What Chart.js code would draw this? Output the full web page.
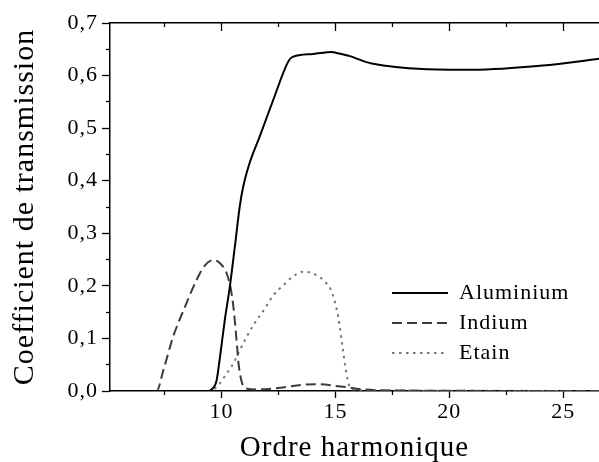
<!DOCTYPE html>
<html><head><meta charset="utf-8">
<script src="https://cdn.jsdelivr.net/npm/chart.js@4.4.1/dist/chart.umd.min.js"></script>
<style>html,body{margin:0;padding:0;background:#fff;}#wrap{width:599px;height:462px;}</style>
</head><body><div id="wrap"><canvas id="c" width="599" height="462"></canvas></div>
<script>
// ---- data ----
const seriesNames = ['Aluminium', 'Indium', 'Etain'];

const alX = [5.1, 9.4, 9.56, 9.78, 9.93, 10.14, 10.36, 10.58, 10.8, 10.95, 11.24, 11.68, 12.27, 12.93, 13.1, 14.02, 14.83, 15.05, 15.63, 16.59, 21.05, 24.1, 26.57];
const alY = [0, 0, 0.003, 0.02, 0.065, 0.135, 0.198, 0.274, 0.352, 0.389, 0.435, 0.485, 0.554, 0.627, 0.635, 0.641, 0.645, 0.643, 0.637, 0.623, 0.611, 0.619, 0.632];

const inX = [5.1, 7.15, 7.44, 7.87, 8.39, 8.9, 9.27, 9.63, 9.93, 10.22, 10.4, 10.51, 10.64, 10.75, 10.9, 11.05, 11.54, 12.56, 13.58, 14.17, 15.34, 16.22, 17.5, 26.57];
const inY = [0, 0, 0.039, 0.103, 0.16, 0.211, 0.239, 0.249, 0.243, 0.224, 0.195, 0.163, 0.105, 0.05, 0.015, 0.005, 0.003, 0.006, 0.012, 0.013, 0.008, 0.003, 0.001, 0];

const snX = [5.1, 9.5, 9.85, 10.22, 10.51, 10.8, 11.1, 11.39, 11.9, 12.27, 12.71, 13.14, 13.58, 13.85, 14.1, 14.46, 14.83, 15.12, 15.31, 15.46, 15.63, 15.93, 17, 26.57];
const snY = [0, 0, 0.011, 0.033, 0.052, 0.078, 0.103, 0.125, 0.157, 0.182, 0.201, 0.218, 0.227, 0.226, 0.222, 0.211, 0.189, 0.141, 0.084, 0.039, 0.008, 0.002, 0.001, 0];

const xMajorTicks = [10, 15, 20, 25];
const xTickLabels = ['10', '15', '20', '25'];
const xMinorTicks = [7.5, 12.5, 17.5, 22.5];
const yMajorTicks = [0, 0.1, 0.2, 0.3, 0.4, 0.5, 0.6, 0.7];
const yTickLabels = ['0,0', '0,1', '0,2', '0,3', '0,4', '0,5', '0,6', '0,7'];
const yMinorTicks = [0.05, 0.15, 0.25, 0.35, 0.45, 0.55, 0.65];
const xRange = [5.1, 26.57];
const yRange = [0, 0.7];
const xTitle = 'Ordre harmonique';
const yTitle = 'Coefficient de transmission';

// ---- chart ----
const FONT = "'Liberation Serif', 'Times New Roman', Times, serif";
Chart.defaults.font.family = FONT;
Chart.defaults.color = '#000';

const zip = (xs, ys) => xs.map((x, i) => ({x: x, y: ys[i]}));
const setTicks = list => axis => { axis.ticks = list.map(v => ({value: v})); };

function tickAxis(pos, weight, list, len, border, range) {
  return {
    type: 'linear', position: pos, weight: weight, bounds: 'data',
    min: range[0], max: range[1],
    afterBuildTicks: setTicks(list),
    afterFit: s => { if (pos === 'left') s.width = 0; else s.height = 0; },
    ticks: {display: false},
    grid: {drawOnChartArea: false, drawTicks: true, tickLength: len, tickColor: '#000', tickWidth: 1.3},
    border: {display: border, color: '#000', width: 1.5}
  };
}

const legendPlacer = {
  id: 'legendPlacer',
  beforeInit(chart) {
    const lg = chart.legend;
    const origFit = lg.fit;
    lg.fit = function () { origFit.call(this); this.width = 0; };
  },
  afterLayout(chart) {
    const lg = chart.legend;
    lg.left = 384; lg.top = 274; lg.right = 599; lg.bottom = 380;
    lg.width = lg.right - lg.left; lg.height = lg.bottom - lg.top;
  },
  beforeDraw(chart) {
    chart.ctx.letterSpacing = '1px';
  }
};

new Chart(document.getElementById('c'), {
  type: 'line',
  data: {
    datasets: [
      {label: seriesNames[0], data: zip(alX, alY), borderColor: '#000', borderWidth: 2,
       pointRadius: 0, cubicInterpolationMode: 'monotone', fill: false},
      {label: seriesNames[1], data: zip(inX, inY), borderColor: '#3c3c3c', borderWidth: 2,
       borderDash: [10, 5], pointRadius: 0, cubicInterpolationMode: 'monotone', fill: false},
      {label: seriesNames[2], data: zip(snX, snY), borderColor: '#777777', borderWidth: 2,
       borderDash: [2.5, 4.5], pointRadius: 0, cubicInterpolationMode: 'monotone', fill: false}
    ]
  },
  options: {
    responsive: false, animation: false, devicePixelRatio: 1,
    layout: {padding: {top: 23, right: 0, bottom: 0, left: 0}},
    plugins: {
      legend: {
        position: 'right', align: 'start',
        labels: {
          usePointStyle: true, pointStyle: 'line', pointStyleWidth: 56,
          font: {size: 22}, color: '#000', padding: 8,
          generateLabels: chart => {
            const items = Chart.defaults.plugins.legend.labels.generateLabels(chart);
            items.forEach(it => {
              const ds = chart.data.datasets[it.datasetIndex];
              it.lineDash = ds.borderDash || [];
              it.lineWidth = ds.borderWidth;
              it.strokeStyle = ds.borderColor;
              it.pointStyle = 'line';
            });
            return items;
          }
        }
      },
      tooltip: {enabled: false}
    },
    scales: {
      x: {
        type: 'linear', position: 'bottom', weight: 1, bounds: 'data',
        min: xRange[0], max: xRange[1],
        afterBuildTicks: setTicks(xMajorTicks),
        afterFit: s => { s.height = 71; },
        ticks: {font: {size: 22}, padding: 1, maxRotation: 0, autoSkip: false,
                callback: (v, i) => xTickLabels[i]},
        grid: {drawOnChartArea: false, drawTicks: true, tickLength: 7, tickColor: '#000', tickWidth: 1.3},
        border: {display: true, color: '#000', width: 1.5},
        title: {display: true, text: xTitle, font: {size: 29}, color: '#000', padding: {top: 0, bottom: -4}}
      },
      xm: tickAxis('bottom', 0, xMinorTicks, 4, false, xRange),
      xt: tickAxis('top', 1, xMajorTicks, -8, true, xRange),
      xtm: tickAxis('top', 0, xMinorTicks, -4, false, xRange),
      y: {
        type: 'linear', position: 'left', weight: 1, bounds: 'data',
        min: yRange[0], max: yRange[1],
        afterBuildTicks: setTicks(yMajorTicks),
        afterFit: s => { s.width = 110; },
        ticks: {font: {size: 22}, padding: 4, autoSkip: false,
                callback: (v, i) => yTickLabels[i]},
        grid: {drawOnChartArea: false, drawTicks: true, tickLength: 8, tickColor: '#000', tickWidth: 1.3},
        border: {display: true, color: '#000', width: 1.5},
        title: {display: true, text: yTitle, font: {size: 30}, color: '#000', padding: {top: 7, bottom: 0}}
      },
      ym: tickAxis('left', 0, yMinorTicks, 4, false, yRange)
    }
  },
  plugins: [legendPlacer]
});
</script>
</body></html>
